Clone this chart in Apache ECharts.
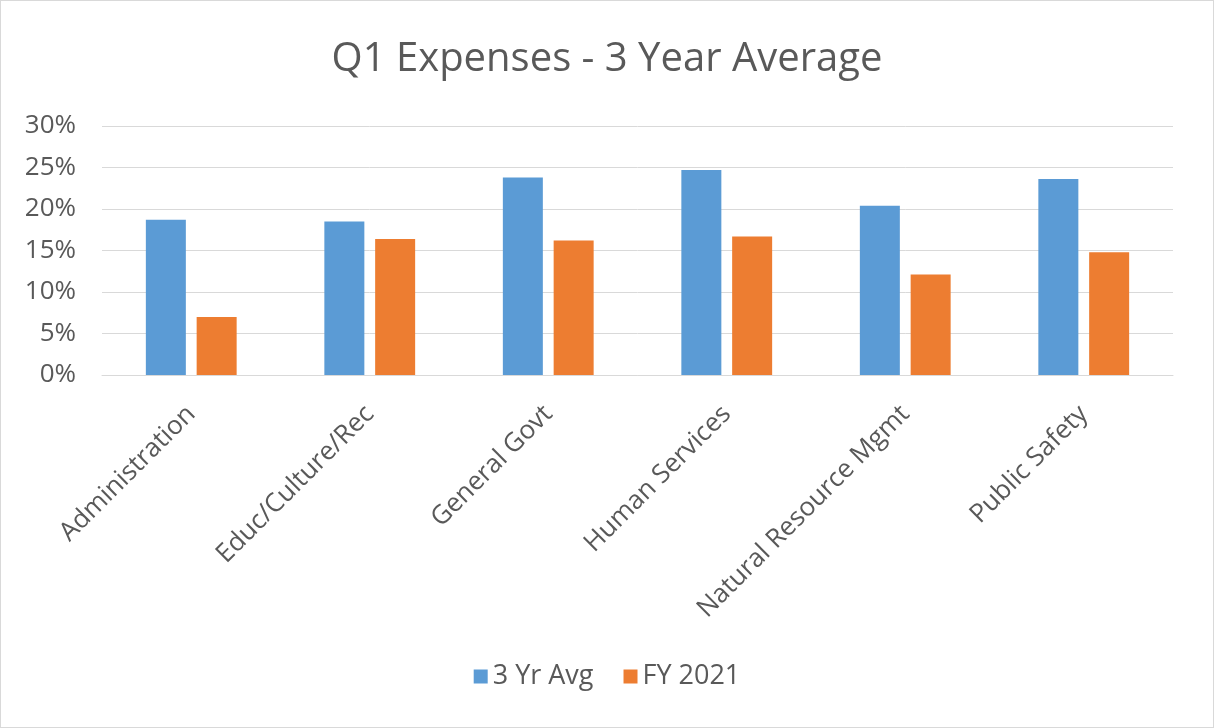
<!DOCTYPE html>
<html>
<head>
<meta charset="utf-8">
<script src="https://cdn.jsdelivr.net/npm/echarts@6/dist/echarts.min.js"></script>
<style>
  html, body { margin: 0; padding: 0; background: #fff; }
  #myChart { width: 1212px; height: 726px; border: 1px solid #d9d9d9; }
</style>
</head>
<body>
<div id="myChart"></div>
<script>
// values (percent)
var categories = ['Administration', 'Educ/Culture/Rec', 'General Govt', 'Human Services', 'Natural Resource Mgmt', 'Public Safety'];
var avg3yr = [18.7, 18.5, 23.8, 24.7, 20.4, 23.6];
var fy2021 = [7.0, 16.4, 16.2, 16.7, 12.1, 14.8];
var seriesNames = ['3 Yr Avg', 'FY 2021'];

var textColor = '#595959';
var fontName = 'Open Sans';

var myChart = echarts.init(document.getElementById("myChart"));
var option = {
    animation: false,
    title: {
        text: 'Q1 Expenses - 3 Year Average',
        left: 'center',
        top: 34,
        textStyle: {
            color: textColor,
            fontFamily: fontName,
            fontWeight: 'normal',
            fontSize: 40
        }
    },
    legend: {
        bottom: 32,
        left: 'center',
        itemWidth: 14,
        itemHeight: 14,
        itemGap: 30,
        icon: 'rect',
        textStyle: {
            color: textColor,
            fontFamily: fontName,
            fontSize: 27
        },
        data: seriesNames
    },
    grid: {
        left: 101,
        right: 40,
        top: 125,
        bottom: 352
    },
    xAxis: {
        type: 'category',
        data: categories,
        axisLine: { lineStyle: { color: '#d9d9d9' } },
        axisTick: { show: false },
        axisLabel: {
            rotate: 45,
            interval: 0,
            margin: 35,
            color: textColor,
            fontFamily: fontName,
            fontSize: 26
        }
    },
    yAxis: {
        type: 'value',
        min: 0,
        max: 30,
        interval: 5,
        axisLine: { show: false },
        axisTick: { show: false },
        splitLine: { lineStyle: { color: '#d9d9d9', width: 1 } },
        axisLabel: {
            formatter: '{value}%',
            margin: 26,
            color: textColor,
            fontFamily: fontName,
            fontSize: 26
        }
    },
    series: [
        {
            name: seriesNames[0],
            type: 'bar',
            data: avg3yr,
            barWidth: 40,
            barGap: '27%',
            itemStyle: { color: '#5b9bd5' }
        },
        {
            name: seriesNames[1],
            type: 'bar',
            data: fy2021,
            barWidth: 40,
            itemStyle: { color: '#ed7d31' }
        }
    ]
};
myChart.setOption(option);
</script>
</body>
</html>
